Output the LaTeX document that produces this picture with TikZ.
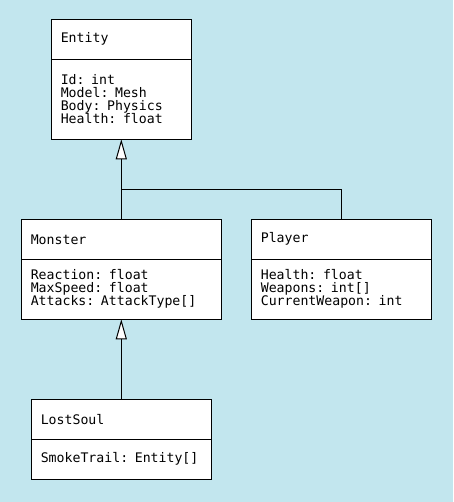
\documentclass[tikz,border=0pt]{standalone}
\usepackage{fontspec}
\setmonofont{DejaVu Sans Mono}
\usepackage{tikz}
\usetikzlibrary{arrows.meta}
\definecolor{bgblue}{RGB}{194,230,238}
\tikzset{
	classtitle/.style={rectangle,draw=black,fill=white,line width=1pt,outer sep=0pt,anchor=north west,minimum height=40pt,inner xsep=9.5pt,inner ysep=0pt,text width=#1,align=left,font=\ttfamily\fontsize{13.2}{13}\selectfont},
	classattr/.style={rectangle,draw=black,fill=white,line width=1pt,outer sep=0pt,anchor=north,minimum height=#1,inner xsep=9.5pt,inner ysep=0pt,align=left,font=\ttfamily\fontsize{13.2}{13}\selectfont},
	inherit/.style={-{Triangle[length=20pt,width=11pt,fill=white]},line width=1pt},
	link/.style={line width=1pt}
}
\begin{document}
\begin{tikzpicture}[x=1pt,y=-1pt]
	\fill[bgblue] (0,0) rectangle (453,502);
	\node[classtitle=121pt] (entity) at (51.3,19.3) {Entity};
	\node[classattr=80pt,text width=121pt] (entityattr) at (entity.south) {Id: int\\Model: Mesh\\Body: Physics\\Health: float};
	\node[classtitle=181pt] (monster) at (21.3,219.3) {Monster};
	\node[classattr=60pt,text width=181pt] (monsterattr) at (monster.south) {Reaction: float\\MaxSpeed: float\\Attacks: AttackType[]};
	\node[classtitle=161pt] (player) at (251.3,219.3) {Player};
	\node[classattr=60pt,text width=161pt] (playerattr) at (player.south) {Health: float\\Weapons: int[]\\CurrentWeapon: int};
	\node[classtitle=161pt] (lostsoul) at (31.3,399.3) {LostSoul};
	\node[classattr=40pt,text width=161pt] (lostsoulattr) at (lostsoul.south) {SmokeTrail: Entity[]};
	\coordinate (join) at (entity.south |- 0,189.5);
	\draw[inherit] (monster.north) -- (entityattr.south);
	\draw[link] (player.north) |- (join);
	\draw[inherit] (lostsoul.north) -- (monsterattr.south);
\end{tikzpicture}
\end{document}
